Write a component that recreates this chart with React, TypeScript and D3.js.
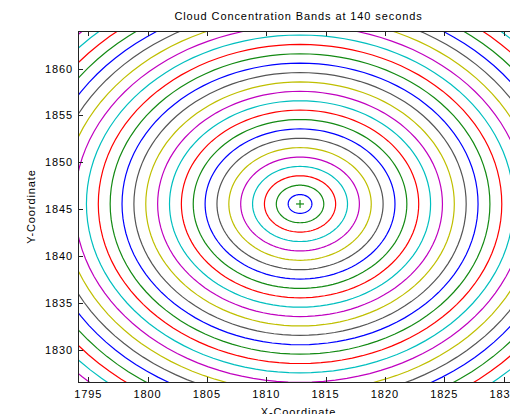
import React from "react";
import * as d3 from "d3";

const xTicks = [1795, 1800, 1805, 1810, 1815, 1820, 1825, 1830];
const yTicks = [1830, 1835, 1840, 1845, 1850, 1855, 1860];
const xDomain = [1794.14, 1831.3];
const yDomain = [1826.6, 1864.0];
const sourceX = 1812.85;
const sourceY = 1845.57;
const bandLevels = [1, 2, 3, 4, 5, 6, 7, 8, 9, 10, 11, 12, 13, 14, 15, 16, 17, 18, 19, 20, 21, 22, 23, 24, 25, 26, 27];
const bandColors = ["#0000FF", "#138A13", "#FF0000", "#00BFBF", "#C000C0", "#BFBF00", "#555555"];

const W = 510;
const H = 414;
const L = 78;
const R = 519;
const T = 31;
const B = 382;
const FONT = "'Liberation Sans', Arial, Helvetica, sans-serif";

export default function App() {
  const x = d3.scaleLinear().domain(xDomain).range([L, R]);
  const y = d3.scaleLinear().domain(yDomain).range([B, T]);
  const angles = d3.range(0, 361, 3).map((a) => (a * Math.PI) / 180);
  const paths = bandLevels.map((r, i) => {
    const line = d3
      .line<number>()
      .x((t) => x(sourceX + r * Math.cos(t)))
      .y((t) => y(sourceY + r * Math.sin(t)));
    return { d: line(angles) as string, color: bandColors[i % bandColors.length] };
  });
  const tickLen = 5;
  return (
    <svg width={W} height={H} style={{ position: "absolute", left: 0, top: 0, background: "#fff" }}>
      <defs>
        <clipPath id="plotclip">
          <rect x={L} y={T} width={R - L} height={B - T} />
        </clipPath>
      </defs>
      <rect x={0} y={0} width={W} height={H} fill="#fff" />
      <g clipPath="url(#plotclip)">
        {paths.map((p, i) => (
          <path key={i} d={p.d} fill="none" stroke={p.color} strokeWidth={1.2} />
        ))}
        <g stroke="#138A13" strokeWidth={1.2}>
          <line x1={x(sourceX) - 4} x2={x(sourceX) + 4} y1={y(sourceY)} y2={y(sourceY)} />
          <line x1={x(sourceX)} x2={x(sourceX)} y1={y(sourceY) - 4} y2={y(sourceY) + 4} />
        </g>
      </g>
      <rect x={L + 0.5} y={T + 0.5} width={R - L} height={B - T} fill="none" stroke="#222" strokeWidth={1} shapeRendering="crispEdges" />
      <g stroke="#222" strokeWidth={1} shapeRendering="crispEdges">
        {xTicks.map((v) => (
          <g key={"xt" + v}>
            <line x1={Math.round(x(v)) + 0.5} x2={Math.round(x(v)) + 0.5} y1={B} y2={B - tickLen} />
            <line x1={Math.round(x(v)) + 0.5} x2={Math.round(x(v)) + 0.5} y1={T} y2={T + tickLen} />
          </g>
        ))}
        {yTicks.map((v) => (
          <g key={"yt" + v}>
            <line x1={L} x2={L + tickLen} y1={Math.round(y(v)) + 0.5} y2={Math.round(y(v)) + 0.5} />
            <line x1={R} x2={R - tickLen} y1={Math.round(y(v)) + 0.5} y2={Math.round(y(v)) + 0.5} />
          </g>
        ))}
      </g>
      <g fontFamily={FONT} fontSize={11} fill="#000" letterSpacing={0.9}>
        {xTicks.map((v) => (
          <text key={"xl" + v} x={x(v)} y={398} textAnchor="middle">
            {v}
          </text>
        ))}
        {yTicks.map((v) => (
          <text key={"yl" + v} x={73} y={y(v) + 4} textAnchor="end">
            {v}
          </text>
        ))}
        <text x={(L + R) / 2} y={20} textAnchor="middle">
          Cloud Concentration Bands at 140 seconds
        </text>
        <text x={(L + R) / 2} y={416} textAnchor="middle">
          X-Coordinate
        </text>
        <text transform={`translate(35,${(T + B) / 2}) rotate(-90)`} textAnchor="middle">
          Y-Coordinate
        </text>
      </g>
    </svg>
  );
}
